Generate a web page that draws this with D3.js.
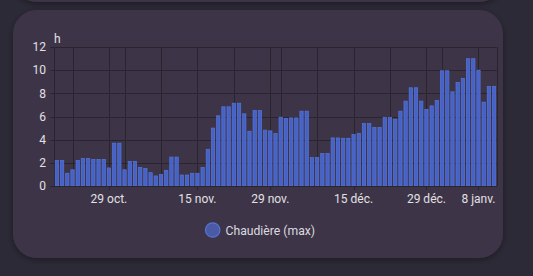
<!DOCTYPE html>
<html>
<head>
<meta charset="utf-8">
<script src="https://cdn.jsdelivr.net/npm/d3@7"></script>
<style>
  html, body { margin: 0; padding: 0; background: #2c2a36; }
  svg { display: block; font-family: Roboto, "Noto Sans", sans-serif; }
</style>
</head>
<body>
<div id="chart"></div>
<script>
const width = 533;
const height = 276;

// daily max hours, 19 oct. 2023 -> 11 janv. 2024
const startDay = new Date(2023, 9, 19);
const values = [
  2.2, 2.2, 1.1, 1.4, 2.2, 2.37, 2.37, 2.3, 2.3, 2.3, 1.56, 3.7, 3.7, 1.4,
  2.13, 2.13, 1.6, 1.5, 1.15, 0.87, 1.0, 1.35, 2.5, 2.5, 0.95, 0.95, 1.1, 1.1,
  1.6, 3.17, 5.0, 6.06, 6.84, 6.84, 7.15, 7.15, 6.23, 4.73, 6.52, 6.52, 4.82,
  4.76, 4.53, 5.94, 5.83, 5.88, 5.88, 6.46, 6.46, 2.45, 2.45, 2.8, 2.8, 4.15,
  4.15, 4.12, 4.12, 4.44, 4.53,
  5.4, 5.4, 5.05, 5.05, 5.91, 5.91, 5.77, 6.46, 7.33, 8.48, 8.48, 7.33, 6.6,
  6.92, 7.38, 9.95, 9.95, 8.13, 8.94, 9.29, 10.99, 10.99, 10.0, 7.24, 8.6, 8.6
];
const days = values.map((v, i) => d3.timeDay.offset(startDay, i));

// grid lines (1, 8, 15, 22, 29 of each month) and labelled ticks
const gridDates = [
  [2023, 9, 22], [2023, 9, 29], [2023, 10, 1], [2023, 10, 8], [2023, 10, 15],
  [2023, 10, 22], [2023, 10, 29], [2023, 11, 1], [2023, 11, 8], [2023, 11, 15],
  [2023, 11, 22], [2023, 11, 29], [2024, 0, 1], [2024, 0, 8]
].map(d => new Date(d[0], d[1], d[2]));
const labelDates = [
  [2023, 9, 29], [2023, 10, 15], [2023, 10, 29], [2023, 11, 15], [2023, 11, 29], [2024, 0, 8]
].map(d => new Date(d[0], d[1], d[2]));
const labelTexts = ["29 oct.", "15 nov.", "29 nov.", "15 déc.", "29 déc.", "8 janv."];
const yTicks = [0, 2, 4, 6, 8, 10, 12];
const seriesName = "Chaudière (max)";
const unit = "h";

const plot = { left: 54.3, right: 496.7, top: 47, bottom: 186 };

const svg = d3.select("#chart")
  .append("svg")
  .attr("width", width)
  .attr("height", height);

// background + cards
const defs = svg.append("defs");
const filt = defs.append("filter").attr("id", "shadow")
  .attr("x", "-10%").attr("y", "-10%").attr("width", "120%").attr("height", "120%");
filt.append("feDropShadow").attr("dx", 0).attr("dy", 2).attr("stdDeviation", 3)
  .attr("flood-color", "#000").attr("flood-opacity", 0.35);

svg.append("rect").attr("width", width).attr("height", height).attr("fill", "#2c2a36");
svg.append("rect")
  .attr("x", 13).attr("y", -60).attr("width", 490).attr("height", 62)
  .attr("rx", 24).attr("fill", "#3d3546").attr("filter", "url(#shadow)");
svg.append("rect")
  .attr("x", 13).attr("y", 10).attr("width", 490).attr("height", 248)
  .attr("rx", 24).attr("fill", "#3d3546").attr("filter", "url(#shadow)");

const x = d3.scaleTime()
  .domain([d3.timeHour.offset(days[0], -12), d3.timeHour.offset(days[days.length - 1], 12)])
  .range([plot.left, plot.right]);

const y = d3.scaleLinear()
  .domain([0, 12])
  .range([plot.bottom, plot.top]);

const grid = svg.append("g").attr("stroke", "#29252f").attr("stroke-width", 1);

// horizontal grid
grid.selectAll(".hg")
  .data(yTicks)
  .enter()
  .append("line")
  .attr("x1", plot.left - 4).attr("x2", plot.right)
  .attr("y1", d => Math.round(y(d)) + 0.5).attr("y2", d => Math.round(y(d)) + 0.5);

// vertical grid
grid.selectAll(".vg")
  .data(gridDates)
  .enter()
  .append("line")
  .attr("x1", d => Math.round(x(d)) + 0.5).attr("x2", d => Math.round(x(d)) + 0.5)
  .attr("y1", plot.top).attr("y2", plot.bottom);

grid.selectAll(".edge")
  .data([plot.left, plot.right])
  .enter()
  .append("line")
  .attr("x1", d => Math.round(d) + 0.5).attr("x2", d => Math.round(d) + 0.5)
  .attr("y1", plot.top).attr("y2", plot.bottom);

// bars
const barW = 3.3;
svg.append("g")
  .selectAll("rect")
  .data(values)
  .enter()
  .append("rect")
  .attr("x", (d, i) => x(days[i]) - barW / 2)
  .attr("y", d => y(d))
  .attr("width", barW)
  .attr("height", d => y(0) - y(d))
  .attr("fill", "#4662c6")
  .attr("stroke", "#5575dc")
  .attr("stroke-width", 0.7);

// x axis line + labelled ticks
svg.append("line")
  .attr("x1", plot.left).attr("x2", plot.right)
  .attr("y1", plot.bottom + 0.5).attr("y2", plot.bottom + 0.5)
  .attr("stroke", "#29252f");

svg.append("g")
  .selectAll("line")
  .data(labelDates)
  .enter()
  .append("line")
  .attr("x1", d => Math.round(x(d)) + 0.5).attr("x2", d => Math.round(x(d)) + 0.5)
  .attr("y1", plot.bottom).attr("y2", plot.bottom + 4)
  .attr("stroke", "#29252f");

svg.append("g")
  .selectAll("text")
  .data(labelDates)
  .enter()
  .append("text")
  .attr("x", d => x(d))
  .attr("y", 203)
  .attr("text-anchor", "middle")
  .attr("font-size", 12)
  .attr("fill", "#e2e0e6")
  .text((d, i) => labelTexts[i]);

// y labels
svg.append("g")
  .selectAll("text")
  .data(yTicks)
  .enter()
  .append("text")
  .attr("x", 46)
  .attr("y", d => y(d) + 4.3)
  .attr("text-anchor", "end")
  .attr("font-size", 12)
  .attr("fill", "#e2e0e6")
  .text(d => d);

svg.append("text")
  .attr("x", 54)
  .attr("y", 43)
  .attr("font-size", 12)
  .attr("fill", "#e2e0e6")
  .text(unit);

// legend
const legend = svg.append("g");
legend.append("circle")
  .attr("cx", 212.7).attr("cy", 230).attr("r", 7.2)
  .attr("fill", "#4a5aa6").attr("stroke", "#5674d6").attr("stroke-width", 1.2);
legend.append("text")
  .attr("x", 225.5).attr("y", 234.5)
  .attr("font-size", 12.2)
  .attr("fill", "#dcd9e0")
  .text(seriesName);
</script>
</body>
</html>
